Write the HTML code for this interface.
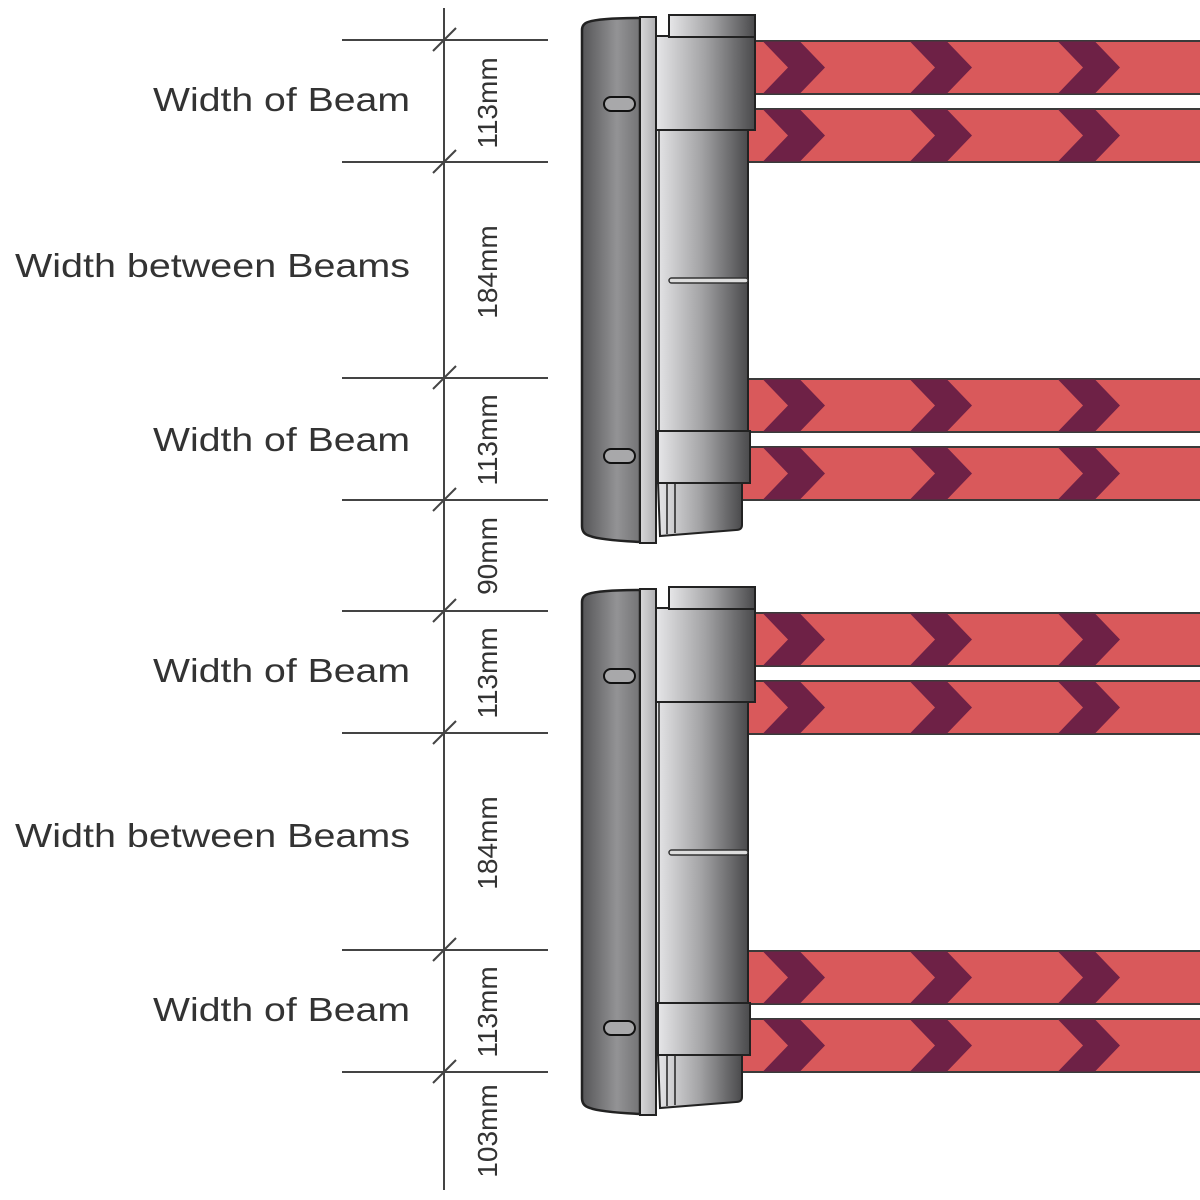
<!DOCTYPE html>
<html><head><meta charset="utf-8"><style>
html,body{margin:0;padding:0;background:#fff;width:1200px;height:1200px;overflow:hidden}
svg{display:block}
text{font-family:"Liberation Sans",sans-serif;fill:#333}
</style></head><body>
<svg width="1200" height="1200" viewBox="0 0 1200 1200" xmlns="http://www.w3.org/2000/svg">
<defs>
<linearGradient id="gL" x1="0" x2="1"><stop offset="0" stop-color="#555557"/><stop offset="0.6" stop-color="#939395"/><stop offset="1" stop-color="#747476"/></linearGradient>
<linearGradient id="gR" x1="0" x2="1"><stop offset="0" stop-color="#e6e6e8"/><stop offset="0.5" stop-color="#a2a2a4"/><stop offset="1" stop-color="#4a4a4c"/></linearGradient>
<linearGradient id="gS" x1="0" x2="1"><stop offset="0" stop-color="#d8d8da"/><stop offset="1" stop-color="#b0b0b2"/></linearGradient>
<g id="chev"><polygon points="763,0 800,0 825,26 800,52 763,52 788,26" fill="#6e2146"/></g>
<g id="beam">
<rect x="740" y="0" width="470" height="53" fill="#d9595b" stroke="#3a3a3a" stroke-width="2"/>
<use href="#chev" y="0.5"/><use href="#chev" x="147" y="0.5"/><use href="#chev" x="295" y="0.5"/>
</g>
<g id="unit">
<use href="#beam" y="41"/><use href="#beam" y="109"/><use href="#beam" y="379"/><use href="#beam" y="447"/>
<path d="M588,22 Q600,18 640,18 L640,542 Q600,540 590,536 Q582,534 582,526 L582,30 Q582,24 588,22 Z" fill="url(#gL)" stroke="#222" stroke-width="2.5"/>
<rect x="640" y="17" width="16" height="526" fill="url(#gS)" stroke="#222" stroke-width="2"/>
<path d="M658,482 L742,482 L742,525 Q742,530 736,530 L660,536 Z" fill="url(#gR)" stroke="#222" stroke-width="2"/>
<line x1="667" y1="484" x2="667" y2="534" stroke="#222" stroke-width="1.5"/>
<line x1="675" y1="484" x2="675" y2="533" stroke="#222" stroke-width="1.5"/>
<rect x="656" y="128" width="92" height="305" fill="url(#gR)" stroke="#222" stroke-width="2"/>
<line x1="659" y1="130" x2="659" y2="432" stroke="#222" stroke-width="1.5"/>
<rect x="669" y="278" width="79" height="5" rx="2.5" fill="#ddd" stroke="#333" stroke-width="1.5"/>
<rect x="658" y="431" width="92" height="52" fill="url(#gR)" stroke="#222" stroke-width="2"/>
<rect x="656" y="36" width="99" height="94" fill="url(#gR)" stroke="#222" stroke-width="2"/>
<rect x="669" y="15" width="86" height="22" fill="url(#gR)" stroke="#222" stroke-width="2"/>
<rect x="604" y="97" width="31" height="14" rx="7" fill="#a8a8aa" stroke="#111" stroke-width="2"/>
<rect x="604" y="449" width="31" height="14" rx="7" fill="#a8a8aa" stroke="#111" stroke-width="2"/>
</g>
</defs>
<use href="#unit"/>
<use href="#unit" y="572"/>
<g stroke="#444" stroke-width="2">
<line x1="444" y1="8" x2="444" y2="1190"/>
<line x1="342" y1="40" x2="548" y2="40"/>
<line x1="342" y1="162" x2="548" y2="162"/>
<line x1="342" y1="378" x2="548" y2="378"/>
<line x1="342" y1="500" x2="548" y2="500"/>
<line x1="342" y1="611" x2="548" y2="611"/>
<line x1="342" y1="733" x2="548" y2="733"/>
<line x1="342" y1="950" x2="548" y2="950"/>
<line x1="342" y1="1072" x2="548" y2="1072"/>
<line x1="433" y1="51" x2="456" y2="28"/>
<line x1="433" y1="173" x2="456" y2="150"/>
<line x1="433" y1="389" x2="456" y2="366"/>
<line x1="433" y1="511" x2="456" y2="488"/>
<line x1="433" y1="622" x2="456" y2="599"/>
<line x1="433" y1="744" x2="456" y2="721"/>
<line x1="433" y1="961" x2="456" y2="938"/>
<line x1="433" y1="1083" x2="456" y2="1060"/>
</g>
<g font-size="33">
<text x="153" y="111" textLength="257" lengthAdjust="spacingAndGlyphs">Width of Beam</text>
<text x="15" y="277" textLength="395" lengthAdjust="spacingAndGlyphs">Width between Beams</text>
<text x="153" y="451" textLength="257" lengthAdjust="spacingAndGlyphs">Width of Beam</text>
<text x="153" y="682" textLength="257" lengthAdjust="spacingAndGlyphs">Width of Beam</text>
<text x="15" y="847" textLength="395" lengthAdjust="spacingAndGlyphs">Width between Beams</text>
<text x="153" y="1021" textLength="257" lengthAdjust="spacingAndGlyphs">Width of Beam</text>
</g>
<g font-size="28" text-anchor="middle">
<text transform="translate(497,103) rotate(-90)">113mm</text>
<text transform="translate(497,272) rotate(-90)">184mm</text>
<text transform="translate(497,440) rotate(-90)">113mm</text>
<text transform="translate(497,556) rotate(-90)">90mm</text>
<text transform="translate(497,673) rotate(-90)">113mm</text>
<text transform="translate(497,843) rotate(-90)">184mm</text>
<text transform="translate(497,1012) rotate(-90)">113mm</text>
<text transform="translate(497,1131) rotate(-90)">103mm</text>
</g>
</svg>
</body></html>
